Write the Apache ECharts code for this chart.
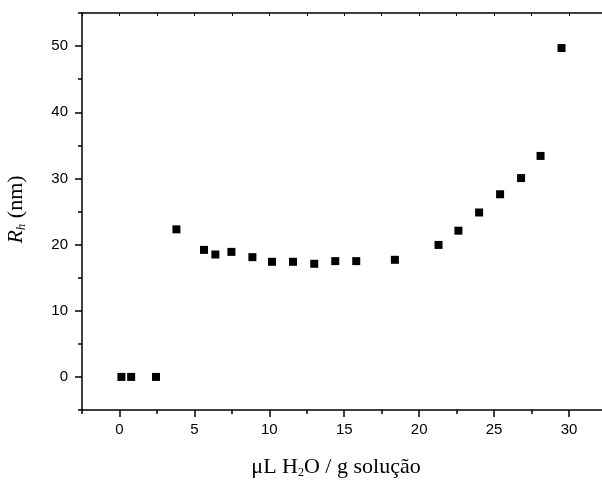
<!DOCTYPE html>
<html>
<head>
<meta charset="utf-8">
<script src="https://cdn.jsdelivr.net/npm/echarts@6/dist/echarts.min.js"></script>
<style>html,body{margin:0;padding:0;background:#fff;}#c{width:602px;height:480px;}</style>
</head>
<body>
<div id="c"></div>
<script>
var xValues = [0.13, 0.78, 2.44, 3.8, 5.64, 6.4, 7.47, 8.87, 10.18, 11.58, 13.0, 14.4, 15.8, 18.38, 21.29, 22.62, 24.0, 25.4, 26.8, 28.1, 29.5];
var rhValues = [0, 0, 0, 22.3, 19.2, 18.5, 18.9, 18.1, 17.4, 17.4, 17.1, 17.5, 17.5, 17.7, 19.95, 22.1, 24.85, 27.6, 30.05, 33.4, 49.7];
var xTickLabels = [0, 5, 10, 15, 20, 25, 30];
var xMinorTicks = [-2.5, 2.5, 7.5, 12.5, 17.5, 22.5, 27.5];
var yTickLabels = [0, 10, 20, 30, 40, 50];
var yMinorTicks = [-5, 5, 15, 25, 35, 45, 55];

var data = xValues.map(function (x, i) { return [x, rhValues[i]]; });
var chart = echarts.init(document.getElementById('c'));
var lineStyle = { color: '#000', width: 1.5 };
var tickFont = { color: '#000', fontSize: 15, fontFamily: 'Liberation Sans, Arial, sans-serif' };
var xBase = { type: 'value', min: -2.5, max: 32.2, interval: 2.5, splitLine: { show: false } };
var yBase = { type: 'value', min: -5, max: 55, interval: 5, splitLine: { show: false } };
var serif = 'Liberation Serif, Times New Roman, serif';

chart.setOption({
  animation: false,
  backgroundColor: '#fff',
  grid: { left: 82, top: 13, right: 0, height: 397, containLabel: false, outerBoundsMode: 'none' },
  xAxis: [
    Object.assign({}, xBase, {
      position: 'bottom',
      axisLine: { show: true, onZero: false, lineStyle: lineStyle },
      axisTick: { show: true, inside: false, length: 7, lineStyle: lineStyle, customValues: xTickLabels },
      axisLabel: Object.assign({ show: true, margin: 12, customValues: xTickLabels }, tickFont),
      name: '{a|μL H}{s|2}{a|O / g solução}',
      nameLocation: 'middle',
      nameGap: 45,
      nameTextStyle: {
        padding: [0, 12, 0, 0],
        rich: {
          a: { fontFamily: serif, fontSize: 22, color: '#000', lineHeight: 24 },
          s: { fontFamily: serif, fontSize: 12, color: '#000', lineHeight: 24, verticalAlign: 'bottom', padding: [9, 0, 0, 0] }
        }
      }
    }),
    Object.assign({}, xBase, {
      position: 'bottom',
      axisLine: { show: false, onZero: false },
      axisTick: { show: true, inside: false, length: 4, lineStyle: lineStyle, customValues: xMinorTicks },
      axisLabel: { show: false }
    }),
    Object.assign({}, xBase, {
      position: 'top',
      axisLine: { show: true, onZero: false, lineStyle: lineStyle },
      axisTick: { show: true, inside: true, length: 3, lineStyle: { color: '#000', width: 1 } },
      axisLabel: { show: false }
    })
  ],
  yAxis: [
    Object.assign({}, yBase, {
      position: 'left',
      axisLine: { show: true, onZero: false, lineStyle: lineStyle },
      axisTick: { show: true, inside: false, length: 7, lineStyle: lineStyle, customValues: yTickLabels },
      axisLabel: Object.assign({ show: true, margin: 14, customValues: yTickLabels }, tickFont),
      name: '{i|R}{s|h}{a| (nm)}',
      nameLocation: 'middle',
      nameRotate: 90,
      nameGap: 54,
      nameTextStyle: {
        padding: [0, 0, 0, 4],
        rich: {
          i: { fontFamily: serif, fontSize: 22, fontStyle: 'italic', color: '#000', lineHeight: 24 },
          s: { fontFamily: serif, fontSize: 13, fontStyle: 'italic', color: '#000', lineHeight: 24, verticalAlign: 'bottom', padding: [9, 0, 0, 0] },
          a: { fontFamily: serif, fontSize: 22, color: '#000', lineHeight: 24 }
        }
      }
    }),
    Object.assign({}, yBase, {
      position: 'left',
      axisLine: { show: false, onZero: false },
      axisTick: { show: true, inside: false, length: 4, lineStyle: lineStyle, customValues: yMinorTicks },
      axisLabel: { show: false }
    })
  ],
  series: [{
    type: 'scatter',
    xAxisIndex: 0,
    yAxisIndex: 0,
    symbol: 'rect',
    symbolSize: 8,
    itemStyle: { color: '#000', opacity: 1 },
    data: data
  }]
});
</script>
</body>
</html>
